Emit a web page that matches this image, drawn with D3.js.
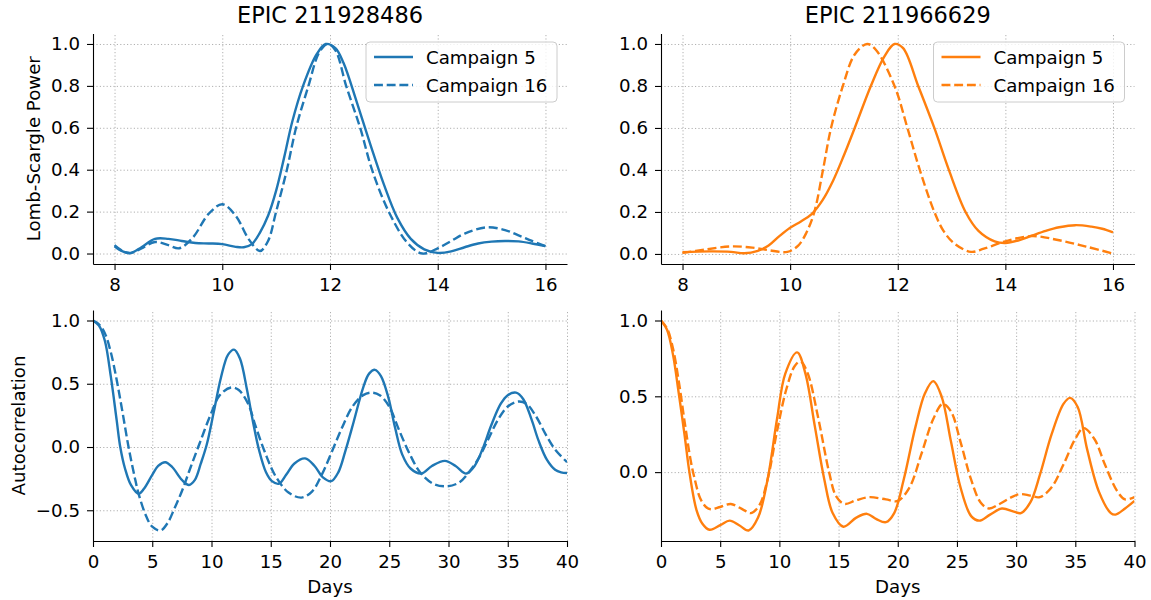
<!DOCTYPE html>
<html>
<head>
<meta charset="utf-8">
<script src="https://cdn.jsdelivr.net/npm/d3@7"></script>
<style>
  body { margin: 0; background: #fff; }
  svg { display: block; }
</style>
</head>
<body>
<svg id="fig" width="1151" height="600"></svg>
<script>
// --- data ---
const titles = ['EPIC 211928486', 'EPIC 211966629'];
const legendLabels = ['Campaign 5', 'Campaign 16'];

const periodTicks = [8, 10, 12, 14, 16];
const powerTicks = [0, 0.2, 0.4, 0.6, 0.8, 1.0];
const lagTicks = [0, 5, 10, 15, 20, 25, 30, 35, 40];
const acfTicksLeft = [-0.5, 0, 0.5, 1.0];
const acfTicksRight = [0, 0.5, 1.0];

// periodogram, EPIC 211928486
const lsA_c5_x = [8.0, 8.15, 8.3, 8.5, 8.75, 9.0, 9.25, 9.5, 9.75, 10.0, 10.25, 10.4, 10.55, 10.7, 10.85, 11.0, 11.15, 11.3, 11.5, 11.75, 11.92, 12.1, 12.25, 12.5, 12.75, 13.0, 13.25, 13.5, 13.75, 14.0, 14.25, 14.5, 14.75, 15.0, 15.25, 15.5, 15.75, 16.0];
const lsA_c5_y = [0.035, 0.01, 0.002, 0.03, 0.07, 0.07, 0.06, 0.05, 0.048, 0.045, 0.032, 0.03, 0.045, 0.1, 0.18, 0.3, 0.46, 0.63, 0.8, 0.95, 1.0, 0.98, 0.91, 0.72, 0.52, 0.33, 0.17, 0.07, 0.02, 0.003, 0.01, 0.03, 0.048, 0.057, 0.06, 0.058, 0.048, 0.035];
const lsA_c16_x = [8.0, 8.15, 8.3, 8.5, 8.75, 9.0, 9.2, 9.45, 9.75, 10.0, 10.25, 10.5, 10.7, 10.85, 11.0, 11.2, 11.37, 11.6, 11.8, 11.96, 12.1, 12.3, 12.56, 12.78, 13.09, 13.44, 13.71, 14.0, 14.25, 14.5, 14.9, 15.25, 15.5, 15.75, 16.0];
const lsA_c16_y = [0.04, 0.012, 0.003, 0.025, 0.055, 0.04, 0.025, 0.075, 0.19, 0.235, 0.18, 0.065, 0.012, 0.06, 0.2, 0.4, 0.6, 0.8, 0.96, 1.0, 0.97, 0.8, 0.6, 0.4, 0.2, 0.05, 0.0, 0.025, 0.06, 0.095, 0.125, 0.112, 0.087, 0.06, 0.035];

// periodogram, EPIC 211966629
const lsB_c5_x = [8.0, 8.5, 8.9, 9.15, 9.4, 9.6, 9.8, 10.0, 10.2, 10.4, 10.6, 10.8, 11.0, 11.2, 11.5, 11.75, 11.94, 12.1, 12.38, 12.68, 12.95, 13.26, 13.5, 13.8, 14.0, 14.25, 14.5, 14.75, 15.0, 15.3, 15.6, 15.8, 16.0];
const lsB_c5_y = [0.008, 0.012, 0.01, 0.003, 0.015, 0.04, 0.085, 0.125, 0.155, 0.19, 0.255, 0.35, 0.47, 0.6, 0.8, 0.94, 1.0, 0.98, 0.8, 0.6, 0.4, 0.2, 0.11, 0.06, 0.052, 0.065, 0.088, 0.11, 0.127, 0.137, 0.13, 0.12, 0.103];
const lsB_c16_x = [8.0, 8.4, 8.9, 9.3, 9.6, 9.95, 10.15, 10.3, 10.45, 10.61, 10.76, 10.98, 11.2, 11.43, 11.6, 11.94, 12.18, 12.41, 12.68, 12.85, 13.05, 13.36, 13.6, 14.0, 14.5, 15.0, 15.5, 16.0];
const lsB_c16_y = [0.005, 0.02, 0.036, 0.03, 0.018, 0.01, 0.04, 0.1, 0.2, 0.4, 0.6, 0.8, 0.95, 1.0, 0.97, 0.8, 0.6, 0.4, 0.2, 0.11, 0.05, 0.01, 0.025, 0.06, 0.085, 0.065, 0.035, 0.002];

// autocorrelation, EPIC 211928486
const acfA_c5_x = [0, 0.5, 1.0, 1.5, 2.0, 2.3, 2.7, 3.2, 3.85, 4.3, 5.0, 5.5, 6.1, 6.7, 7.5, 8.1, 8.6, 9.1, 9.6, 10.2, 10.8, 11.4, 11.9, 12.4, 13.0, 13.5, 14.0, 14.6, 15.1, 15.7, 16.3, 17.0, 17.9, 18.7, 19.4, 20.1, 20.7, 21.3, 22.0, 22.8, 23.3, 23.8, 24.3, 24.9, 25.5, 26.1, 26.8, 27.7, 28.6, 29.7, 30.6, 31.5, 32.2, 32.9, 33.6, 34.4, 35.0, 35.7, 36.3, 37.0, 37.6, 38.3, 39.0, 39.5, 40.0];
const acfA_c5_y = [1.0, 0.96, 0.84, 0.56, 0.21, 0.0, -0.17, -0.3, -0.37, -0.33, -0.22, -0.15, -0.12, -0.16, -0.26, -0.3, -0.26, -0.13, 0.02, 0.28, 0.55, 0.73, 0.77, 0.7, 0.45, 0.2, -0.02, -0.2, -0.27, -0.29, -0.22, -0.13, -0.09, -0.15, -0.24, -0.27, -0.2, -0.03, 0.2, 0.47, 0.58, 0.61, 0.56, 0.4, 0.15, -0.06, -0.17, -0.21, -0.15, -0.11, -0.15, -0.21, -0.15, -0.01, 0.17, 0.34, 0.41, 0.43, 0.38, 0.22, 0.05, -0.1, -0.18, -0.2, -0.205];
const acfA_c16_x = [0, 0.5, 1.0, 1.5, 2.0, 2.5, 3.0, 3.5, 3.85, 4.5, 5.0, 5.7, 6.3, 6.9, 7.5, 8.2, 9.0, 9.9, 10.7, 11.65, 12.3, 13.1, 13.7, 14.5, 15.4, 16.5, 17.6, 18.5, 19.3, 20.1, 21.0, 21.9, 22.8, 23.5, 24.2, 25.0, 25.8, 26.7, 27.6, 28.7, 29.9, 30.9, 31.8, 32.6, 33.4, 34.2, 35.0, 35.9, 36.6, 37.4, 38.2, 39.0, 40.0];
const acfA_c16_y = [1.0, 0.97, 0.9, 0.75, 0.53, 0.27, 0.0, -0.23, -0.37, -0.55, -0.63, -0.66, -0.6, -0.48, -0.35, -0.17, 0.03, 0.25, 0.41, 0.47, 0.45, 0.34, 0.17, -0.04, -0.23, -0.36, -0.4, -0.35, -0.22, -0.05, 0.15, 0.32, 0.41, 0.43, 0.41, 0.32, 0.14, -0.05, -0.2, -0.29, -0.31, -0.28, -0.19, -0.08, 0.07, 0.22, 0.32, 0.36, 0.34, 0.24, 0.1, -0.02, -0.12];

// autocorrelation, EPIC 211966629
const acfB_c5_x = [0, 0.5, 1.0, 1.5, 2.0, 2.4, 3.0, 3.5, 4.1, 5.0, 5.8, 6.6, 7.4, 8.2, 9.0, 9.8, 10.5, 11.5, 12.2, 13.0, 13.8, 14.5, 15.4, 16.5, 17.4, 18.2, 19.0, 19.7, 20.5, 21.5, 22.3, 23.0, 23.7, 24.5, 25.3, 26.2, 26.9, 27.8, 28.8, 29.8, 30.4, 31.2, 32.0, 33.0, 34.0, 34.55, 35.2, 36.0, 37.0, 38.0, 38.4, 39.2, 40.0];
const acfB_c5_y = [1.0, 0.94, 0.78, 0.52, 0.24, 0.0, -0.25, -0.34, -0.38, -0.35, -0.32, -0.35, -0.385, -0.3, -0.05, 0.35, 0.65, 0.79, 0.65, 0.3, -0.05, -0.27, -0.36, -0.3, -0.275, -0.31, -0.33, -0.27, -0.05, 0.3, 0.52, 0.6, 0.5, 0.2, -0.1, -0.29, -0.32, -0.28, -0.24, -0.26, -0.27, -0.2, -0.02, 0.25, 0.45, 0.49, 0.43, 0.15, -0.13, -0.27, -0.28, -0.24, -0.19];
const acfB_c16_x = [0, 0.5, 1.0, 1.5, 2.0, 2.5, 2.8, 3.3, 3.8, 4.2, 5.0, 5.9, 7.0, 7.6, 8.3, 9.0, 9.8, 10.6, 11.3, 11.8, 12.4, 13.3, 14.2, 14.8, 15.5, 16.5, 17.6, 19.0, 20.0, 21.0, 22.0, 23.0, 23.8, 24.5, 25.3, 26.2, 27.0, 27.7, 28.6, 29.5, 30.3, 31.2, 32.0, 33.0, 34.0, 35.0, 35.7, 36.6, 37.5, 38.5, 39.2, 40.0];
const acfB_c16_y = [1.0, 0.95, 0.82, 0.6, 0.33, 0.08, -0.03, -0.17, -0.23, -0.245, -0.23, -0.21, -0.25, -0.27, -0.22, -0.05, 0.27, 0.55, 0.7, 0.73, 0.65, 0.35, 0.0, -0.16, -0.21, -0.185, -0.165, -0.18, -0.19, -0.1, 0.12, 0.35, 0.45, 0.4, 0.2, -0.05, -0.2, -0.24, -0.21, -0.17, -0.145, -0.155, -0.165, -0.1, 0.05, 0.22, 0.29, 0.22, 0.05, -0.12, -0.18, -0.165];

(function () {
  'use strict';

  const COLORS = {
    blue: '#1f77b4',
    orange: '#ff7f0e',
    text: '#000',
    grid: '#b0b0b0',
    legendEdge: '#cccccc',
  };
  const FONT = '"DejaVu Sans", sans-serif';
  const FS = 18.2;
  const LW = 2.4;
  const DASH = '8.9,3.8';

  const svg = d3.select('#fig');
  svg.append('rect').attr('width', 1151).attr('height', 600).attr('fill', '#fff');

  const zip = (xs, ys) => xs.map((v, i) => ({ x: v, y: ys[i] }));

  function padded(vals) {
    const [lo, hi] = d3.extent(vals);
    const m = (hi - lo) * 0.05;
    return [lo - m, hi + m];
  }

  let clipId = 0;

  function drawPanel(o) {
    const x = d3.scaleLinear().domain(o.xDomain).range([o.left, o.right]);
    const y = d3.scaleLinear().domain(o.yDomain).range([o.bottom, o.top]);
    const g = svg.append('g');
    const h = o.bottom - o.top;
    const w = o.right - o.left;

    // Grid (dotted)
    const gx = g.append('g')
      .attr('transform', `translate(0,${o.bottom})`)
      .call(d3.axisBottom(x).tickValues(o.xTicks).tickSize(-h).tickFormat(''));
    const gy = g.append('g')
      .attr('transform', `translate(${o.left},0)`)
      .call(d3.axisLeft(y).tickValues(o.yTicks).tickSize(-w).tickFormat(''));
    [gx, gy].forEach(a => {
      a.select('.domain').remove();
      a.selectAll('line')
        .attr('stroke', COLORS.grid)
        .attr('stroke-width', 1)
        .attr('stroke-dasharray', '1.2,2.2');
    });

    // Lines
    const id = 'clip' + (clipId++);
    svg.append('defs').append('clipPath').attr('id', id)
      .append('rect').attr('x', o.left).attr('y', o.top).attr('width', w).attr('height', h);

    const line = d3.line()
      .x(d => x(d.x))
      .y(d => y(d.y))
      .curve(d3.curveCatmullRom.alpha(0.5));

    o.series.forEach((s, i) => {
      g.append('path')
        .datum(s)
        .attr('clip-path', `url(#${id})`)
        .attr('fill', 'none')
        .attr('stroke', o.color)
        .attr('stroke-width', LW)
        .attr('stroke-linejoin', 'round')
        .attr('stroke-dasharray', i === 1 ? DASH : null)
        .attr('d', line);
    });

    // Axes
    const ax = g.append('g')
      .attr('transform', `translate(0,${o.bottom})`)
      .call(d3.axisBottom(x).tickValues(o.xTicks).tickSize(6).tickSizeOuter(0).tickPadding(8.2).tickFormat(d3.format('d')));
    const ay = g.append('g')
      .attr('transform', `translate(${o.left},0)`)
      .call(d3.axisLeft(y).tickValues(o.yTicks).tickSize(6).tickSizeOuter(0).tickPadding(7).tickFormat(d3.format('.1f')));
    [ax, ay].forEach(a => {
      a.select('.domain').attr('stroke', COLORS.text).attr('stroke-width', 1.1);
      a.selectAll('.tick line').attr('stroke', COLORS.text).attr('stroke-width', 1.1);
      a.selectAll('.tick text')
        .attr('fill', COLORS.text)
        .attr('font-family', FONT)
        .attr('font-size', FS + 'px');
    });

    if (o.title) {
      g.append('text')
        .attr('x', (o.left + o.right) / 2).attr('y', 23)
        .attr('text-anchor', 'middle')
        .attr('font-family', FONT).attr('font-size', '22.5px')
        .attr('fill', COLORS.text)
        .text(o.title);
    }
    if (o.ylabel) {
      g.append('text')
        .attr('transform', `translate(${o.ylabelX},${(o.top + o.bottom) / 2}) rotate(-90)`)
        .attr('text-anchor', 'middle')
        .attr('font-family', FONT).attr('font-size', FS + 'px')
        .attr('fill', COLORS.text)
        .text(o.ylabel);
    }
    if (o.xlabel) {
      g.append('text')
        .attr('x', (o.left + o.right) / 2).attr('y', 593)
        .attr('text-anchor', 'middle')
        .attr('font-family', FONT).attr('font-size', FS + 'px')
        .attr('fill', COLORS.text)
        .text(o.xlabel);
    }

    // Legend
    if (o.legend) {
      const lw = 191, lh = 60;
      const lx = o.right - 10 - lw, ly = o.top + 8.5;
      const lg = g.append('g').attr('transform', `translate(${lx},${ly})`);
      lg.append('rect')
        .attr('width', lw).attr('height', lh).attr('rx', 4)
        .attr('fill', '#fff').attr('fill-opacity', 0.8)
        .attr('stroke', COLORS.legendEdge).attr('stroke-width', 1);
      legendLabels.forEach((lab, i) => {
        const yy = 15 + i * 28;
        lg.append('line')
          .attr('x1', 8).attr('x2', 47).attr('y1', yy).attr('y2', yy)
          .attr('stroke', o.color).attr('stroke-width', LW)
          .attr('stroke-dasharray', i === 1 ? DASH : null);
        lg.append('text')
          .attr('x', 60).attr('y', yy).attr('dy', '0.36em')
          .attr('font-family', FONT).attr('font-size', FS + 'px')
          .attr('fill', COLORS.text)
          .text(lab);
      });
    }
  }

  const L = { left: 93, right: 567 };
  const R = { left: 661, right: 1134.5 };
  const TOP = { top: 33.5, bottom: 264 };
  const BOT = { top: 310, bottom: 541 };

  drawPanel({
    ...L, ...TOP,
    xDomain: padded(lsA_c5_x.concat(lsA_c16_x)),
    yDomain: padded(lsA_c5_y.concat(lsA_c16_y)),
    xTicks: periodTicks, yTicks: powerTicks,
    series: [zip(lsA_c5_x, lsA_c5_y), zip(lsA_c16_x, lsA_c16_y)],
    color: COLORS.blue, title: titles[0],
    ylabel: 'Lomb-Scargle Power', ylabelX: 40, legend: true,
  });

  drawPanel({
    ...R, ...TOP,
    xDomain: padded(lsB_c5_x.concat(lsB_c16_x)),
    yDomain: padded(lsB_c5_y.concat(lsB_c16_y)),
    xTicks: periodTicks, yTicks: powerTicks,
    series: [zip(lsB_c5_x, lsB_c5_y), zip(lsB_c16_x, lsB_c16_y)],
    color: COLORS.orange, title: titles[1], legend: true,
  });

  drawPanel({
    ...L, ...BOT,
    xDomain: [0, 40],
    yDomain: padded(acfA_c5_y.concat(acfA_c16_y)),
    xTicks: lagTicks, yTicks: acfTicksLeft,
    series: [zip(acfA_c5_x, acfA_c5_y), zip(acfA_c16_x, acfA_c16_y)],
    color: COLORS.blue,
    ylabel: 'Autocorrelation', ylabelX: 25, xlabel: 'Days',
  });

  drawPanel({
    ...R, ...BOT,
    xDomain: [0, 40],
    yDomain: padded(acfB_c5_y.concat(acfB_c16_y)),
    xTicks: lagTicks, yTicks: acfTicksRight,
    series: [zip(acfB_c5_x, acfB_c5_y), zip(acfB_c16_x, acfB_c16_y)],
    color: COLORS.orange, xlabel: 'Days',
  });
})();
</script>
</body>
</html>
